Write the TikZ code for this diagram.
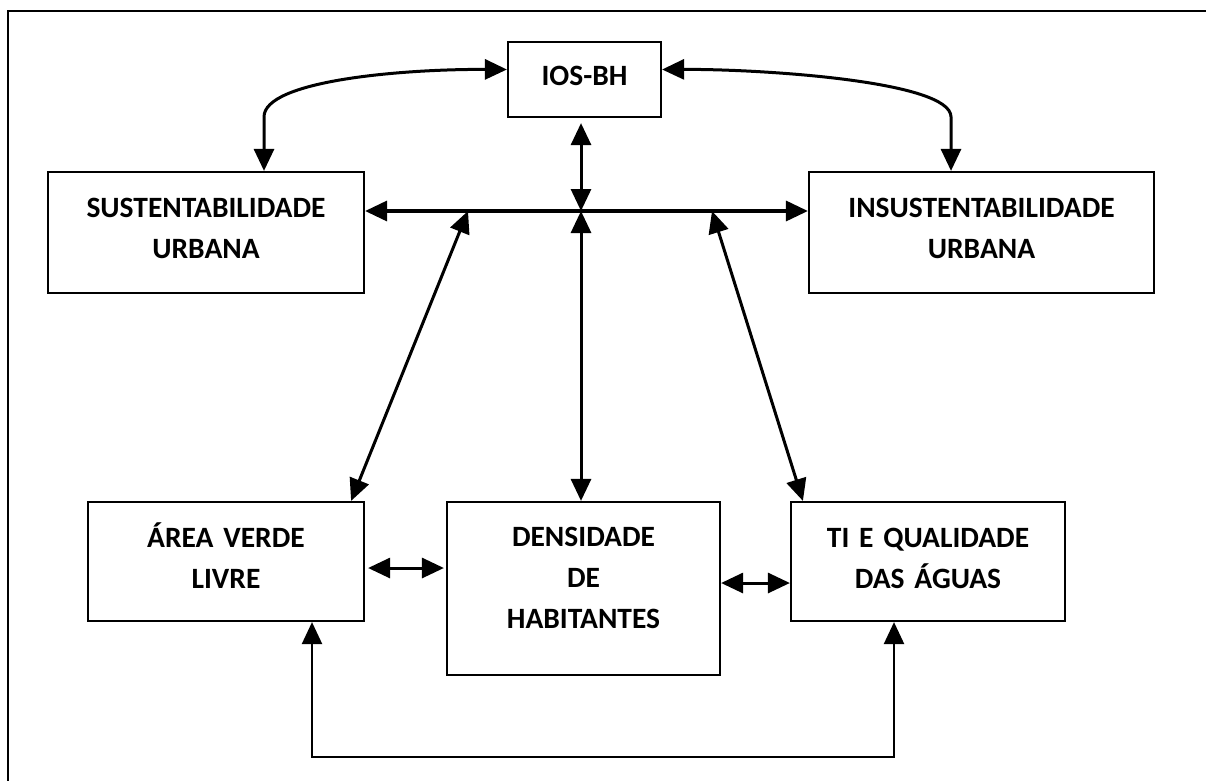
\documentclass[tikz,border=0pt]{standalone}
\usepackage{fontspec}
\setmainfont{Carlito}[WordSpace=0.7]
\usetikzlibrary{arrows.meta}
\tikzset{
  box/.style={draw, line width=2.2pt, inner sep=0pt, align=center,
    font=\fontsize{29.5}{41}\selectfont\bfseries, text height=18pt},
  conn/.style={line width=3pt, {Triangle[length=22pt,width=20pt]}-{Triangle[length=22pt,width=20pt]}},
  thinconn/.style={line width=2.4pt, {Triangle[length=22pt,width=20pt]}-{Triangle[length=22pt,width=20pt]}},
}
\begin{document}
\begin{tikzpicture}[x=1pt,y=-1pt]
\useasboundingbox (0,0) rectangle (1206,780);
\clip (0,0) rectangle (1206,780);
\draw[line width=2.4pt] (8,830) -- (8,11) -- (1260,11);

\node[box, minimum width=153pt, minimum height=75pt, text width=140pt, text depth=7pt] (ios) at (584.5,79.5) {IOS-BH};
\node[box, minimum width=316pt, minimum height=121pt, text width=296pt, text depth=49pt] (sus) at (206,232.5) {SUSTENTABILIDADE\\URBANA};
\node[box, minimum width=345pt, minimum height=121pt, text width=325pt, text depth=49pt] (ins) at (981.5,232.5) {INSUSTENTABILIDADE\\URBANA};
\node[box, minimum width=276pt, minimum height=119pt, text width=256pt, text depth=47pt] (area) at (226,561.5) {ÁREA VERDE\\LIVRE};
\node[box, minimum width=273pt, minimum height=173pt, text width=253pt, text depth=103pt] (dens) at (583.5,588.5) {DENSIDADE\\DE\\HABITANTES};
\node[box, minimum width=274pt, minimum height=119pt, text width=254pt, text depth=47pt] (ti) at (928,561.5) {TI E QUALIDADE\\DAS ÁGUAS};

\coordinate (hub) at (581,211);
\coordinate (hl) at (468,211);
\coordinate (hr) at (712,211);
\coordinate (bl) at (600,757);
\coordinate (ad) at (400,568);
\coordinate (dt) at (750,583);

% horizontal line between the two top boxes
\draw[conn, line width=3.4pt] (sus.east |- hub) -- (ins.west |- hub);
% IOS-BH to hub
\draw[conn, shorten <=5pt] (ios.south -| hub) -- (hub);
% hub to densidade
\draw[conn] (hub) -- (dens.north -| hub);
% diagonals
\draw[conn] (hl) -- ([xshift=-14pt]area.north east);
\draw[conn] (hr) -- ([xshift=13pt]ti.north west);
% small horizontal arrows
\draw[conn, shorten <=3pt, shorten >=2pt] (area.east |- ad) -- (dens.west |- ad);
\draw[conn] (dens.east |- dt) -- (ti.west |- dt);
% bottom loop
\draw[thinconn] ([xshift=86pt]area.south) |- (bl) -| ([xshift=-34pt]ti.south);
% curved arrows
\draw[conn] ([xshift=58pt]sus.north) -- ++(0,-54) .. controls +(0,-36) and (400,69) .. ([yshift=10pt]ios.west);
\draw[conn] ([xshift=-30.5pt]ins.north) -- ++(0,-54) .. controls +(0,-36) and (760,69) .. ([yshift=10pt]ios.east);
\end{tikzpicture}
\end{document}
